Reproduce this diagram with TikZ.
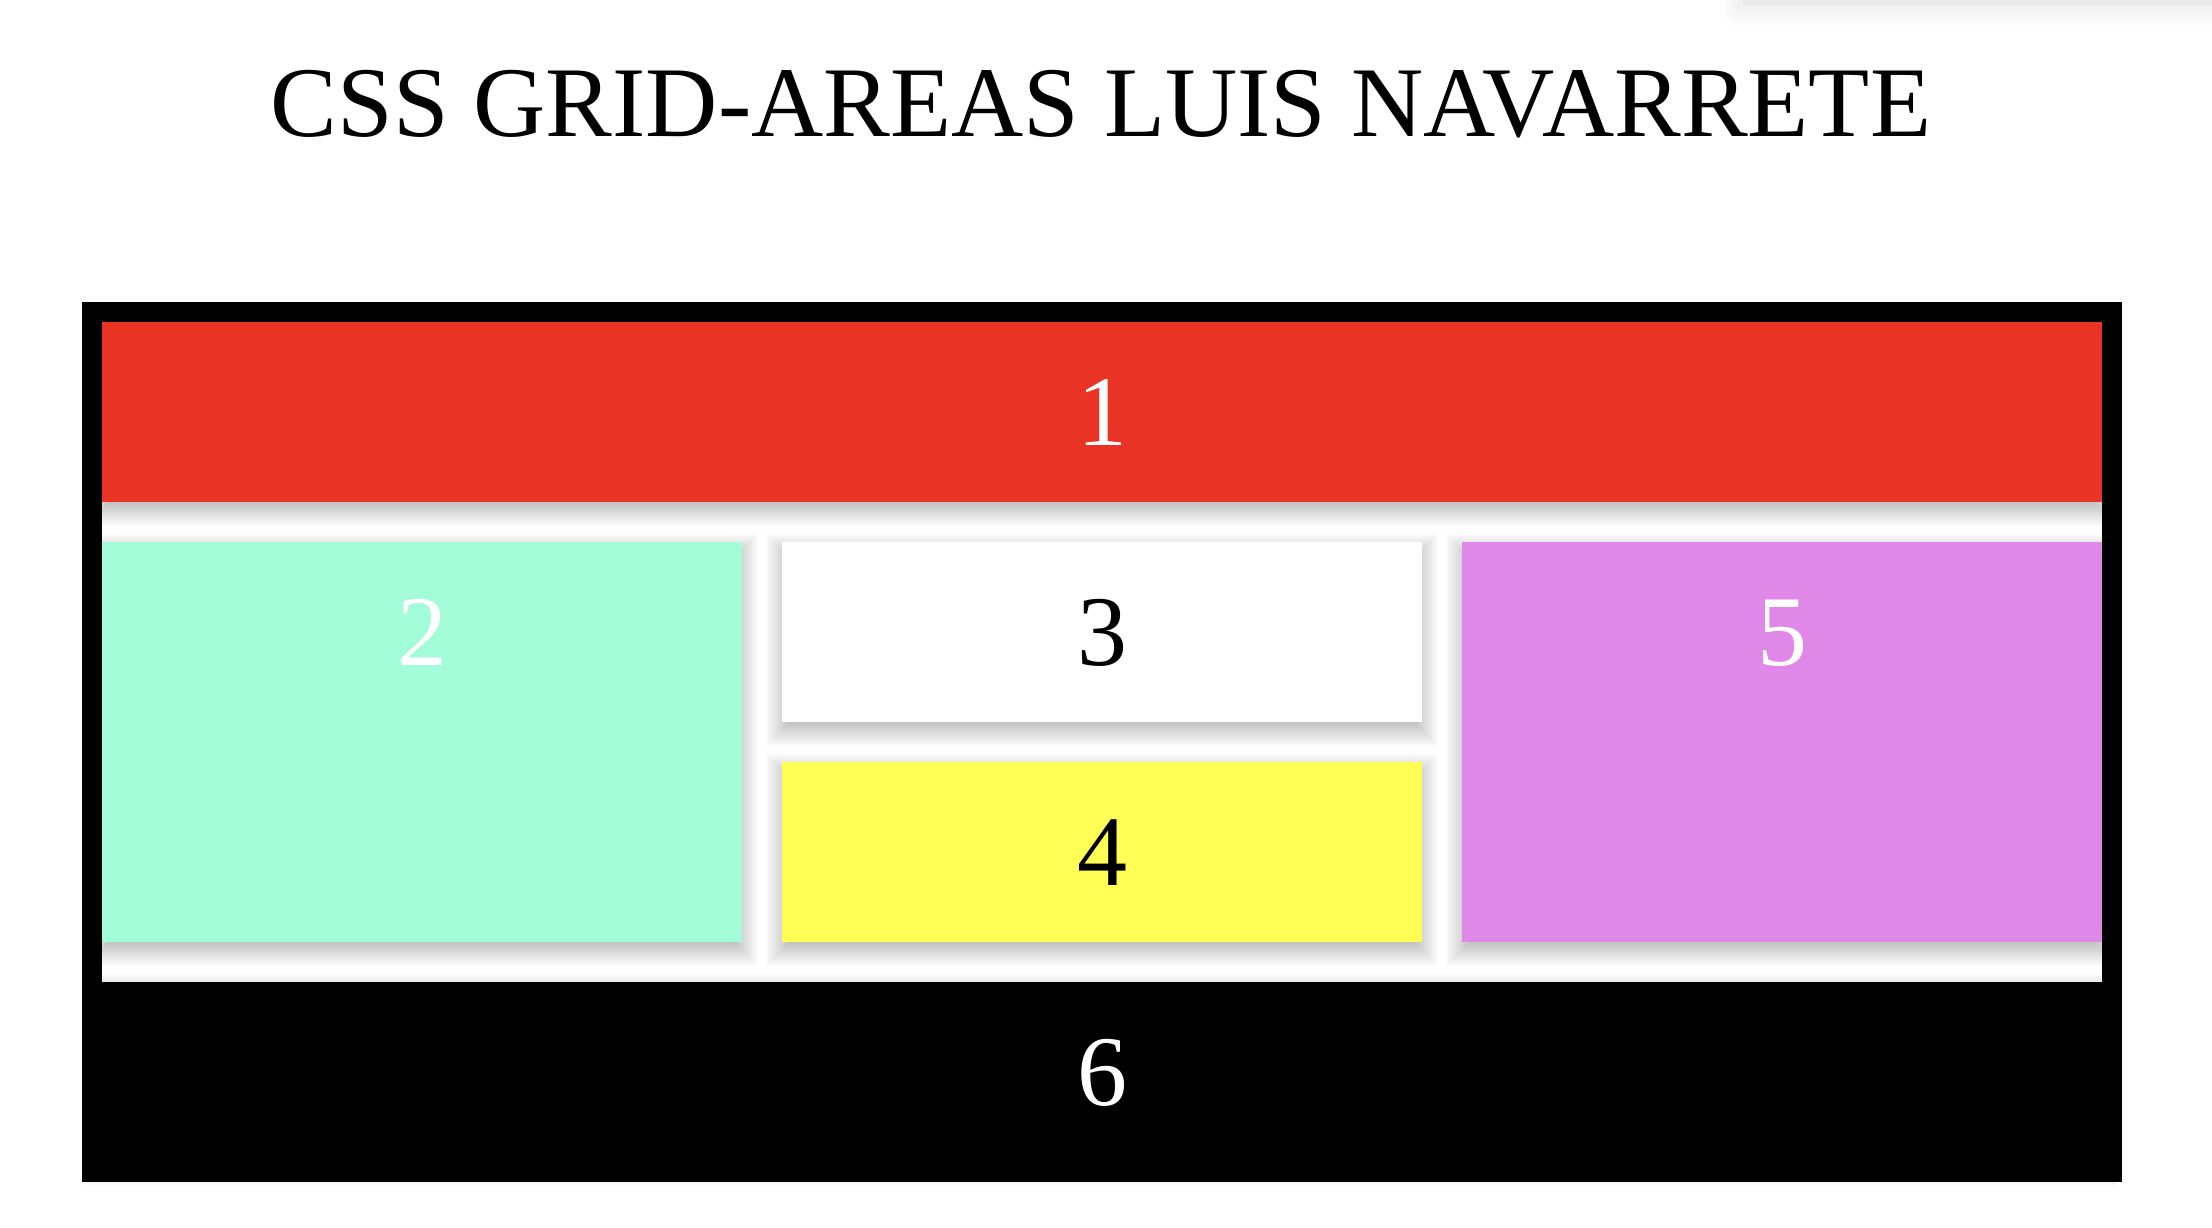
\documentclass[tikz,border=0pt]{standalone}
\usepackage{fontspec}
\setmainfont{Liberation Serif}
\usepackage{xcolor}
\usepackage{tikz}
\usetikzlibrary{shadows,shadows.blur}

\definecolor{cellred}{RGB}{233,52,37}
\definecolor{cellgreen}{RGB}{163,252,216}
\definecolor{cellwhite}{RGB}{255,255,255}
\definecolor{cellyellow}{RGB}{255,255,85}
\definecolor{cellpurple}{RGB}{224,136,232}
\definecolor{cellblack}{RGB}{0,0,0}

\def\gridcells{
  102/322/2102/502/cellred/white/1,
  102/542/742/942/cellgreen/white/2,
  782/542/1422/722/cellwhite/black/3,
  782/762/1422/942/cellyellow/black/4,
  1462/542/2102/942/cellpurple/white/5,
  102/982/2102/1162/cellblack/white/6}

\begin{document}
\begin{tikzpicture}[x=1pt,y=-1pt,
  shade ring/.style={black,opacity=0.02},
  num/.style={anchor=base,font=\fontsize{100}{100}\selectfont}]
  \useasboundingbox (0,0) rectangle (2212,1228);
  % faint shadow at the top right corner
  \path[blur shadow={shadow xshift=0pt,shadow yshift=-8pt,shadow blur radius=20pt,shadow opacity=12}] (1740,-40) rectangle (2260,0);
  \node[num] (title) at (1101,137) {CSS GRID-AREAS LUIS NAVARRETE};
  % container
  \fill[black] (82,302) rectangle (2122,1182);
  \fill[white] (102,322) rectangle (2102,1162);
  % soft shadows first
  \foreach \xa/\ya/\xb/\yb/\col/\tcol/\n in \gridcells {
    \foreach \k in {-14,-12,...,16}
      \fill[shade ring] (\xa-\k,\ya-\k+8) rectangle (\xb+\k,\yb+\k+8);
  }
  % then the cells
  \foreach \xa/\ya/\xb/\yb/\col/\tcol/\n in \gridcells {
    \fill[\col] (\xa,\ya) rectangle (\xb,\yb);
    \node[num,text=\tcol] (cell\n) at ({(\xa+\xb)/2},\ya+123) {\n};
  }
\end{tikzpicture}
\end{document}
